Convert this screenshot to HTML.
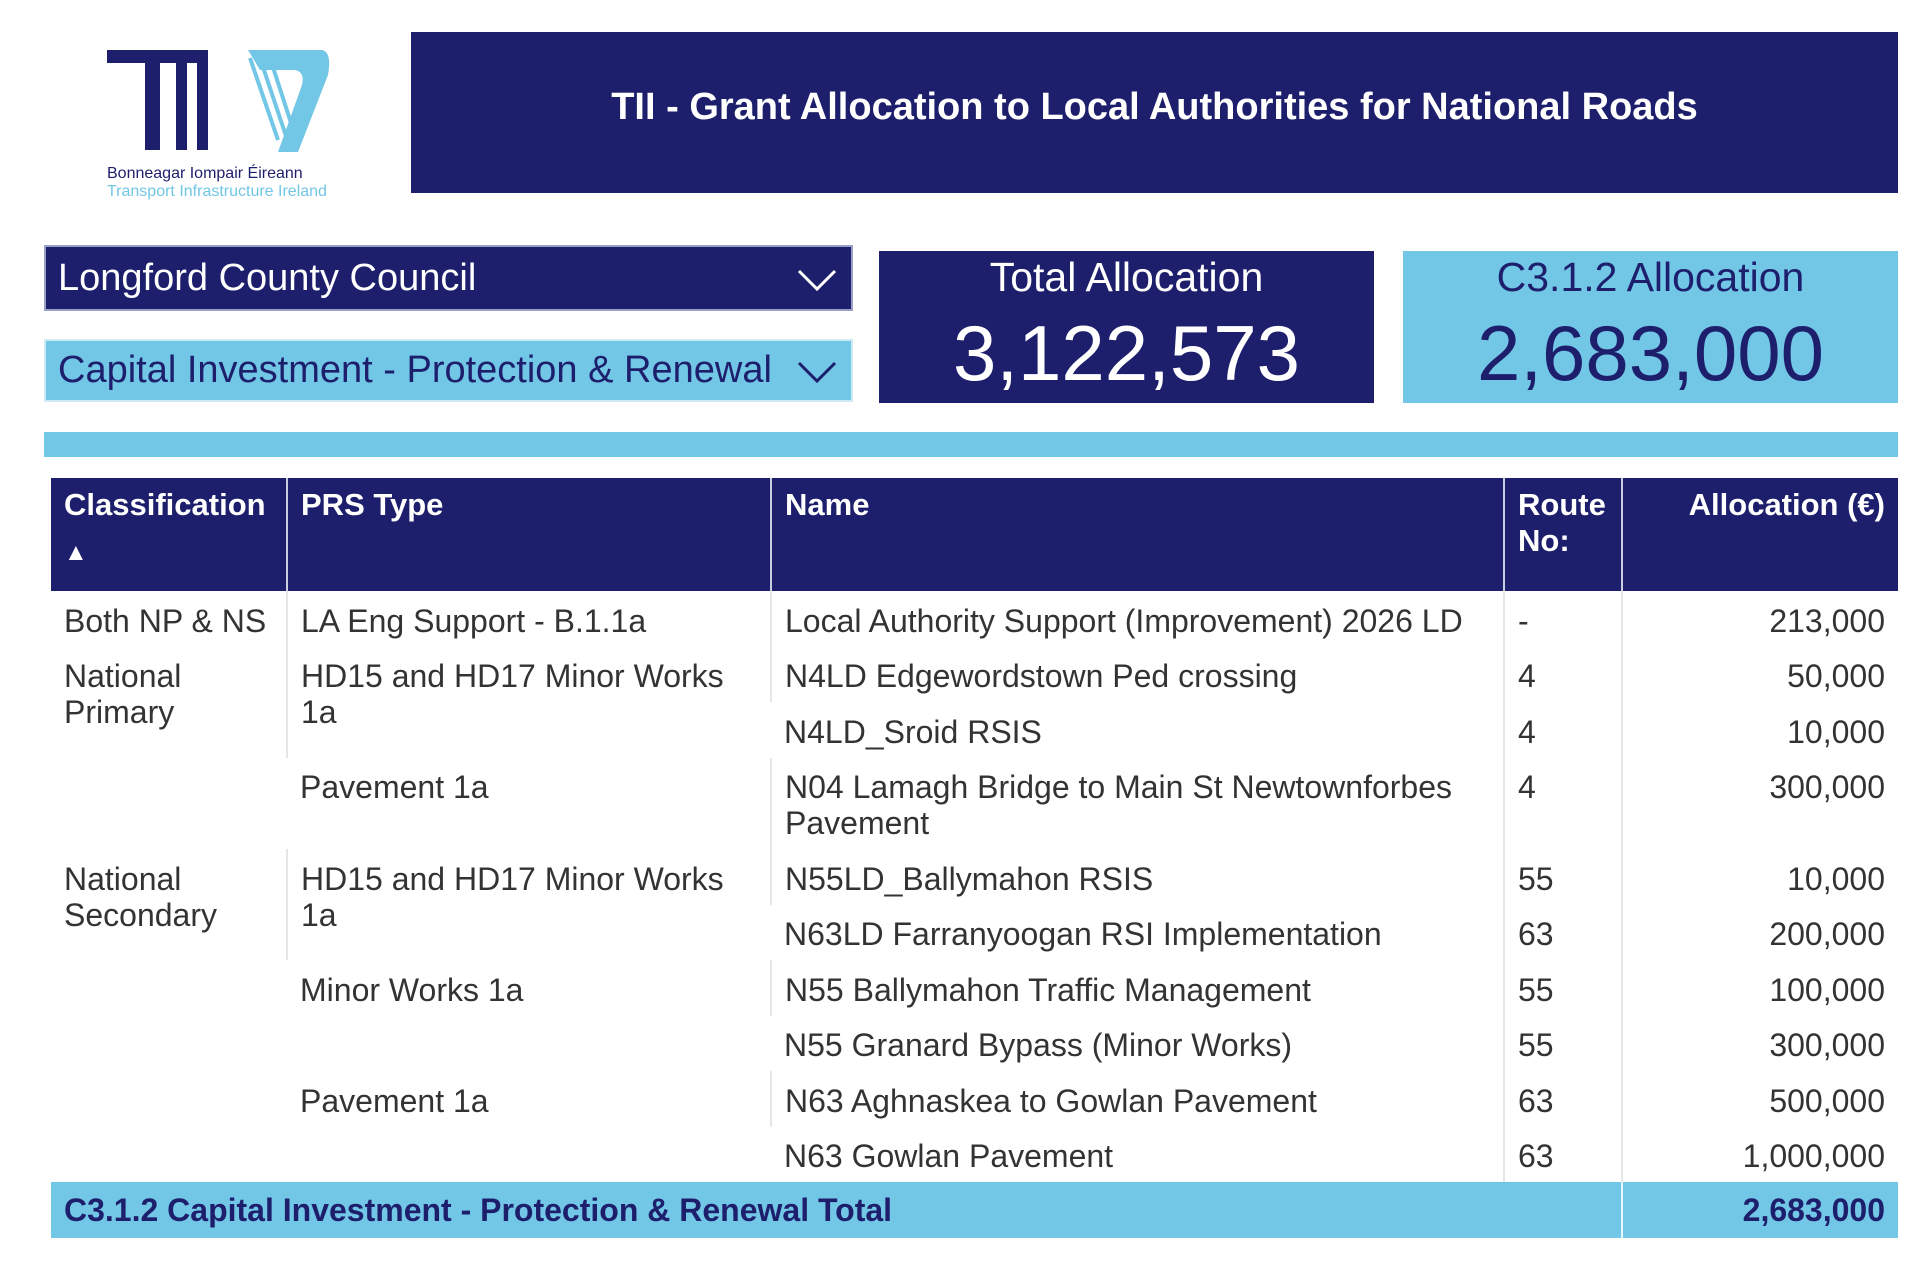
<!DOCTYPE html>
<html><head><meta charset="utf-8">
<style>
*{margin:0;padding:0;box-sizing:border-box}
body{width:1920px;height:1270px;background:#fff;font-family:"Liberation Sans",Arial,sans-serif;position:relative;overflow:hidden;color:#333}
.abs{position:absolute}
.navy{background:#1d1f6c}
.lb{background:#72c6e6}
table{position:absolute;left:51px;top:478px;width:1847px;border-collapse:collapse;font-size:32px}
td,th{vertical-align:top;padding:11.5px 13px 8px 13px;line-height:36px;text-align:left}
th{background:#1d1f6c;color:#fff;font-weight:bold;height:107px;padding-top:9px;border-left:2px solid #c9cbe0;font-size:31px}
th:first-child{border-left:none}
td{border-left:2px solid #e6e6e6;color:#333}
td:first-child{border-left:none}
.r{text-align:right}
tr.tot td{background:#72c6e6;color:#1d1f6c;font-weight:bold;height:56px;padding-top:10px}
</style></head><body>
<svg class="abs" style="left:100px;top:40px" width="250" height="165" viewBox="0 0 250 165">
<rect x="7" y="10" width="92" height="13" fill="#1d1f6c"/>
<rect x="45" y="10" width="15" height="100" fill="#1d1f6c"/>
<rect x="76" y="10" width="11" height="100" fill="#1d1f6c"/>
<rect x="97" y="10" width="11" height="100" fill="#1d1f6c"/>
<path d="M148 10 L222 10 Q232 12 228 35 L198 112 L178 112 L202 45 Q205 32 195 30 L160 30 Z" fill="#72c6e6"/>
<path d="M150 18 L178 100 M160 18 L186 96 M170 18 L192 86" stroke="#72c6e6" stroke-width="4"/>
<text x="7" y="138" font-family="Liberation Sans,sans-serif" font-size="16" fill="#1d1f6c">Bonneagar Iompair Éireann</text>
<text x="7" y="156" font-family="Liberation Sans,sans-serif" font-size="16" fill="#72c6e6">Transport Infrastructure Ireland</text>
</svg>
<div class="abs navy" style="left:411px;top:32px;width:1487px;height:161px;color:#fff;font-weight:bold;font-size:38px;text-align:center;line-height:150px">TII - Grant Allocation to Local Authorities for National Roads</div>

<div class="abs navy" style="left:44px;top:245px;width:809px;height:66px;border:2px solid #9aa0c8;color:#fff;font-size:38px;line-height:62px;padding-left:12px">Longford County Council
<svg class="abs" style="right:14px;top:22px" width="40" height="22"><path d="M2 2 L20 20 L38 2" stroke="#fff" stroke-width="3" fill="none"/></svg></div>
<div class="abs lb" style="left:44px;top:339px;width:809px;height:63px;border:2px solid #cfe9f5;color:#1d1f6c;font-size:38px;line-height:59px;padding-left:12px">Capital Investment - Protection &amp; Renewal
<svg class="abs" style="right:14px;top:20px" width="40" height="22"><path d="M2 2 L20 20 L38 2" stroke="#1d1f6c" stroke-width="3" fill="none"/></svg></div>

<div class="abs navy" style="left:879px;top:251px;width:495px;height:152px;color:#fff;text-align:center">
<div style="font-size:41px;margin-top:3px;line-height:46px">Total Allocation</div>
<div style="font-size:78px;line-height:86px;margin-top:10px">3,122,573</div></div>
<div class="abs lb" style="left:1403px;top:251px;width:495px;height:152px;color:#1d1f6c;text-align:center">
<div style="font-size:41px;margin-top:3px;line-height:46px">C3.1.2 Allocation</div>
<div style="font-size:78px;line-height:86px;margin-top:10px">2,683,000</div></div>

<div class="abs lb" style="left:44px;top:432px;width:1854px;height:25px"></div>

<table>
<colgroup><col style="width:236px"><col style="width:484px"><col style="width:733px"><col style="width:118px"><col style="width:276px"></colgroup>
<tr><th>Classification<br><span style="font-size:24px;line-height:60px">▲</span></th><th>PRS Type</th><th>Name</th><th>Route<br>No:</th><th class="r">Allocation (€)</th></tr>
<tr><td>Both NP &amp; NS</td><td>LA Eng Support - B.1.1a</td><td>Local Authority Support (Improvement) 2026 LD</td><td>-</td><td class="r">213,000</td></tr>
<tr><td rowspan="3">National<br>Primary</td><td rowspan="2">HD15 and HD17 Minor Works<br>1a</td><td>N4LD Edgewordstown Ped crossing</td><td>4</td><td class="r">50,000</td></tr>
<tr><td>N4LD_Sroid RSIS</td><td>4</td><td class="r">10,000</td></tr>
<tr><td>Pavement 1a</td><td>N04 Lamagh Bridge to Main St Newtownforbes<br>Pavement</td><td>4</td><td class="r">300,000</td></tr>
<tr><td rowspan="6">National<br>Secondary</td><td rowspan="2">HD15 and HD17 Minor Works<br>1a</td><td>N55LD_Ballymahon RSIS</td><td>55</td><td class="r">10,000</td></tr>
<tr><td>N63LD Farranyoogan RSI Implementation</td><td>63</td><td class="r">200,000</td></tr>
<tr><td rowspan="2">Minor Works 1a</td><td>N55 Ballymahon Traffic Management</td><td>55</td><td class="r">100,000</td></tr>
<tr><td>N55 Granard Bypass (Minor Works)</td><td>55</td><td class="r">300,000</td></tr>
<tr><td rowspan="2">Pavement 1a</td><td>N63 Aghnaskea to Gowlan Pavement</td><td>63</td><td class="r">500,000</td></tr>
<tr><td>N63 Gowlan Pavement</td><td>63</td><td class="r">1,000,000</td></tr>
<tr class="tot"><td colspan="4">C3.1.2 Capital Investment - Protection &amp; Renewal Total</td><td class="r" style="border-left:2px solid #e8f6fc">2,683,000</td></tr>
</table>
</body></html>
